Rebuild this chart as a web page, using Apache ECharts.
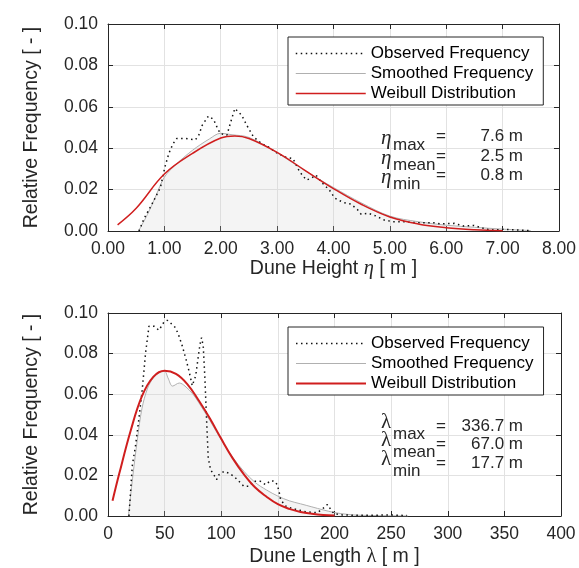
<!DOCTYPE html>
<html><head><meta charset="utf-8">
<script src="https://cdn.jsdelivr.net/npm/echarts@6/dist/echarts.min.js"></script>
<style>html,body{margin:0;padding:0;background:#fff}#c{width:579px;height:568px}</style>
</head><body><div id="c"></div>
<script>
const legendNames = ['Observed Frequency', 'Smoothed Frequency', 'Weibull Distribution'];

const heightObserved = [[0.55,0],[0.64,0.006],[0.78,0.013],[0.93,0.021],[1.01,0.031],[1.08,0.0375],[1.15,0.042],[1.22,0.0447],[1.37,0.0447],[1.55,0.044],[1.61,0.0463],[1.67,0.051],[1.78,0.0555],[1.87,0.054],[1.93,0.0504],[1.99,0.0471],[2.11,0.0463],[2.17,0.052],[2.25,0.0592],[2.37,0.056],[2.46,0.0512],[2.58,0.0455],[2.72,0.0423],[2.84,0.0407],[2.96,0.0383],[3.13,0.0358],[3.28,0.035],[3.4,0.0286],[3.52,0.0246],[3.6,0.0254],[3.69,0.027],[3.78,0.0238],[3.93,0.0197],[4.02,0.016],[4.08,0.015],[4.19,0.0137],[4.31,0.013],[4.43,0.0102],[4.49,0.0081],[4.61,0.0086],[4.75,0.0073],[4.9,0.0053],[5.05,0.0045],[5.25,0.0045],[5.49,0.004],[5.78,0.004],[5.9,0.0034],[6.14,0.0037],[6.31,0.0024],[6.49,0.0027],[6.72,0.0008],[6.84,0.0005],[7.02,0.0008],[7.25,0.0005],[7.5,0.0002]];
const heightSmoothed = [[0.54,0],[0.7,0.008],[0.85,0.017],[1.0,0.026],[1.2,0.032],[1.5,0.039],[1.8,0.0445],[2.0,0.0472],[2.2,0.0465],[2.5,0.0452],[3.0,0.0378],[3.5,0.029],[4.0,0.021],[4.5,0.0135],[5.0,0.0072],[5.5,0.0045],[6.0,0.0028],[6.5,0.0018],[7.0,0.0009],[7.5,0.0002]];
const heightWeibull = [[0.17,0.003],[0.5,0.011],[1.0,0.0275],[1.5,0.0375],[2.0,0.0449],[2.25,0.0459],[2.5,0.0447],[3.0,0.0380],[3.5,0.0292],[4.0,0.0205],[4.5,0.0128],[5.0,0.0068],[5.5,0.0034],[6.0,0.0016],[6.5,0.0006],[7.0,0.0001]];

const lengthObserved = [[18.5,0],[21.5,0.025],[24.4,0.035],[27.3,0.048],[30.3,0.0626],[33.2,0.0805],[36.2,0.0935],[40.6,0.0935],[45,0.0915],[49.4,0.0955],[52.4,0.0964],[56.8,0.0943],[59.7,0.0927],[62.7,0.0886],[65.6,0.0837],[68.5,0.078],[71.5,0.0715],[74.4,0.0642],[77.4,0.069],[79.4,0.0772],[81.2,0.0846],[82.6,0.0878],[84.1,0.0837],[85.6,0.0675],[87,0.048],[88.5,0.0285],[90.6,0.0228],[93.5,0.0203],[95.9,0.0179],[97.9,0.0203],[102.4,0.022],[106.8,0.0211],[111.2,0.0195],[115.6,0.0171],[120,0.0146],[124.5,0.0146],[128.8,0.0171],[134.7,0.0171],[139.1,0.0154],[143.5,0.0174],[147.4,0.0171],[149.4,0.0154],[151,0.0122],[152.4,0.0081],[156.8,0.0049],[162.7,0.0037],[174.5,0.0021],[184.8,0.0016],[190.7,0.0041],[193.7,0.0057],[196.6,0.0033],[199.6,0.0011],[207,0.0005],[222,0.0003],[249,0.0005],[256,0.0004],[264,0.0002]];
const lengthSmoothed = [[18,0],[22,0.02],[26,0.038],[30,0.053],[35,0.063],[40,0.068],[45,0.0705],[50,0.0712],[53,0.068],[57,0.064],[63,0.0655],[68,0.064],[75,0.060],[80,0.056],[90,0.047],[100,0.0375],[110,0.029],[120,0.022],[130,0.0165],[140,0.0128],[150,0.0098],[160,0.0075],[170,0.006],[180,0.0045],[190,0.003],[200,0.0017],[210,0.0009],[220,0.0004],[240,0.0002],[265,0]];
const lengthWeibull = [[4,0.0075],[10,0.021],[20,0.042],[30,0.059],[40,0.0685],[50,0.0715],[60,0.070],[70,0.065],[80,0.057],[90,0.048],[100,0.038],[110,0.0285],[120,0.0205],[130,0.014],[140,0.0095],[150,0.0058],[160,0.0035],[170,0.002],[180,0.0011],[190,0.0005],[200,0.0002]];

const freqAxis = [0, 0.10, 0.02];
const heightAxis = [0, 8, 1];
const lengthAxis = [0, 400, 50];
const heightStats = [['max', '7.6 m'], ['mean', '2.5 m'], ['min', '0.8 m']];
const lengthStats = [['max', '336.7 m'], ['mean', '67.0 m'], ['min', '17.7 m']];

const FONT = '"Liberation Sans", Arial, sans-serif';
const SERIF = '"Liberation Serif", "DejaVu Serif", serif';
const TXT = '#262626';
const GRIDC = '#e2e2e2';
const TICK = 17.5;
const LAB = 19.5;
const OBS_COLOR = '#111111', SMO_COLOR = '#b0b0b0', WEI_COLOR = '#d01e1e';

const grids = [
  {left: 108, right: 18, top: 24, height: 207},
  {left: 108, right: 18, top: 313, height: 205}
];

function xAx(g, rng, digits, name, greek, italic, main, gap) {
  return {
    type: 'value', gridIndex: g, min: rng[0], max: rng[1], interval: rng[2],
    position: main ? 'bottom' : 'top',
    axisLine: {show: true, onZero: false, lineStyle: {color: TXT, width: 1}},
    axisTick: {show: true, inside: true, length: 5, lineStyle: {color: TXT}},
    splitLine: {show: main, lineStyle: {color: GRIDC, width: 1}},
    axisLabel: {show: main, margin: 9, fontSize: TICK, fontFamily: FONT, color: TXT,
      formatter: v => v.toFixed(digits)},
    name: main ? '{a|' + name + ' }{g|' + greek + '}{a| [ m ]}' : '',
    nameLocation: 'middle', nameGap: gap,
    nameTextStyle: {rich: {
      a: {fontSize: LAB, fontFamily: FONT, color: TXT},
      g: {fontSize: LAB + 1, fontFamily: SERIF, fontStyle: italic ? 'italic' : 'normal', color: TXT}
    }}
  };
}
function yAx(g, main) {
  return {
    type: 'value', gridIndex: g, min: freqAxis[0], max: freqAxis[1], interval: freqAxis[2],
    position: main ? 'left' : 'right',
    axisLine: {show: true, onZero: false, lineStyle: {color: TXT, width: 1}},
    axisTick: {show: true, inside: true, length: 5, lineStyle: {color: TXT}},
    splitLine: {show: main, lineStyle: {color: GRIDC, width: 1}},
    axisLabel: {show: main, margin: 10, fontSize: TICK, fontFamily: FONT, color: TXT,
      formatter: v => v.toFixed(2)},
    name: main ? 'Relative Frequency [ - ]' : '',
    nameLocation: 'middle', nameGap: 66,
    nameTextStyle: {fontSize: LAB, fontFamily: FONT, color: TXT}
  };
}

function seriesFor(g, obs, smo, wei, redW) {
  return [
    {name: legendNames[0], type: 'line', xAxisIndex: 2 * g, yAxisIndex: 2 * g, data: obs,
      symbol: 'none', z: 4, itemStyle: {color: OBS_COLOR},
      lineStyle: {color: OBS_COLOR, width: 1.5, type: [1.5, 3.5]}},
    {name: legendNames[1], type: 'line', xAxisIndex: 2 * g, yAxisIndex: 2 * g, data: smo,
      symbol: 'none', smooth: 0.35, z: 2, itemStyle: {color: SMO_COLOR},
      lineStyle: {color: SMO_COLOR, width: 1},
      areaStyle: {color: 'rgba(210,210,210,0.35)'}},
    {name: legendNames[2], type: 'line', xAxisIndex: 2 * g, yAxisIndex: 2 * g, data: wei,
      symbol: 'none', smooth: 0.4, z: 5, itemStyle: {color: WEI_COLOR},
      lineStyle: {color: WEI_COLOR, width: redW}}
  ];
}

function legendFor(top, redW) {
  return {
    orient: 'vertical', left: 288, top: top, selectedMode: false,
    data: [
      {name: legendNames[0], itemStyle: {opacity: 0}, lineStyle: {color: OBS_COLOR, width: 1.5, type: [1.5, 3.5]}},
      {name: legendNames[1], itemStyle: {opacity: 0}, lineStyle: {color: SMO_COLOR, width: 1}},
      {name: legendNames[2], itemStyle: {opacity: 0}, lineStyle: {color: WEI_COLOR, width: redW}}
    ],
    itemStyle: {opacity: 0},
    backgroundColor: '#fff', borderColor: TXT, borderWidth: 1,
    padding: [8, 10, 3, 7], itemWidth: 70, itemHeight: 14, itemGap: 3, itemTextGap: 7,
    textStyle: {fontSize: 17, fontFamily: FONT, color: '#000'}
  };
}

function statText(stats, greek, italic, baseY, step, greekDy, subDy) {
  const els = [];
  stats.forEach((s, i) => {
    const y = baseY + i * step;
    els.push({type: 'text', x: 381, y: y + greekDy, z: 100,
      style: {text: greek, font: (italic ? 'italic ' : '') + '21px ' + SERIF, fill: TXT, verticalAlign: 'middle'}});
    els.push({type: 'text', x: 393, y: y + subDy, z: 100,
      style: {text: s[0], font: '17px ' + FONT, fill: TXT, verticalAlign: 'middle'}});
    els.push({type: 'text', x: 441, y: y, z: 100,
      style: {text: '=', font: '17px ' + FONT, fill: TXT, align: 'center', verticalAlign: 'middle'}});
    els.push({type: 'text', x: 523, y: y, z: 100,
      style: {text: s[1], font: '17px ' + FONT, fill: TXT, align: 'right', verticalAlign: 'middle'}});
  });
  return els;
}

const chart = echarts.init(document.getElementById('c'), null, {renderer: 'canvas'});
chart.setOption({
  backgroundColor: '#fff',
  animation: false,
  grid: grids,
  xAxis: [
    xAx(0, heightAxis, 2, 'Dune Height', 'η', true, true, 27),
    xAx(0, heightAxis, 2, '', '', false, false, 27),
    xAx(1, lengthAxis, 0, 'Dune Length', 'λ', false, true, 30),
    xAx(1, lengthAxis, 0, '', '', false, false, 30)
  ],
  yAxis: [yAx(0, true), yAx(0, false), yAx(1, true), yAx(1, false)],
  legend: [legendFor(37, 1.5), legendFor(327, 2)],
  series: [].concat(
    seriesFor(0, heightObserved, heightSmoothed, heightWeibull, 1.5),
    seriesFor(1, lengthObserved, lengthSmoothed, lengthWeibull, 2)
  ),
  graphic: [].concat(
    statText(heightStats, 'η', true, 136.5, 19.5, 2, 9),
    statText(lengthStats, 'λ', false, 426, 18.5, -4, 8)
  )
});
</script></body></html>
